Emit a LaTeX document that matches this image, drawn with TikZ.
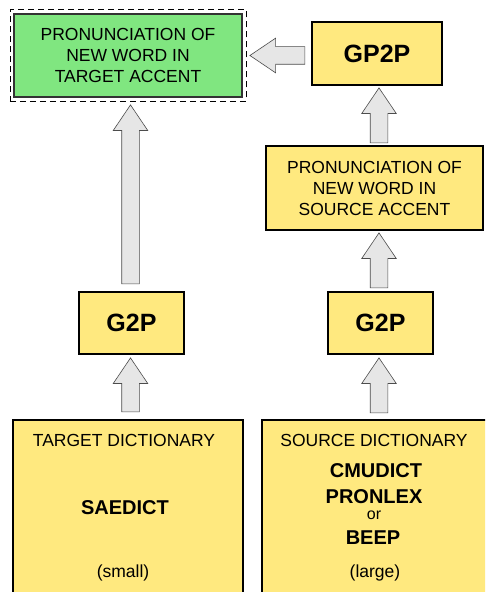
\documentclass[tikz,border=0pt]{standalone}
\usepackage{fontspec}
\setmainfont{Liberation Sans}
\usetikzlibrary{shapes.arrows, fit, calc}
\definecolor{boxyellow}{RGB}{255,233,127}
\definecolor{boxgreen}{RGB}{128,230,128}
\definecolor{arrowgray}{RGB}{230,230,230}
\tikzset{
  box/.style={draw=black, line width=1.6pt, fill=boxyellow, align=center, inner sep=0pt},
  lbl/.style={font=\fontsize{17.5}{21}\selectfont, align=center},
  bigl/.style={font=\fontsize{25}{30}\selectfont\bfseries},
  namel/.style={font=\fontsize{20}{24}\selectfont\bfseries, inner sep=0pt},
  fatarrow/.style={single arrow, draw=black!70, line width=0.6pt, fill=arrowgray,
    inner xsep=0pt, inner ysep=8.5pt, single arrow head extend=8.5pt,
    single arrow tip angle=68, minimum height=#1, anchor=tail},
}

\begin{document}
\begin{tikzpicture}[x=1pt, y=1pt]
  \clip (0,0) rectangle (485,592);
  % boxes
  \node[box, lbl, fill=boxgreen, draw=black!80, line width=1.2pt,
    minimum width=228pt, minimum height=83pt] (tgt) at (128,536.5)
    {PRONUNCIATION OF\\NEW WORD IN\\TARGET ACCENT};
  \node[draw, dash pattern=on 6pt off 4pt, line width=0.8pt, fit=(tgt), inner sep=3.5pt] (tgtfrm) {};
  \node[box, bigl, minimum width=130pt, minimum height=63pt] (gp2p) at (377,538.5) {GP2P};
  \node[box, lbl, minimum width=217pt, minimum height=84pt] (src) at (374.5,404)
    {PRONUNCIATION OF\\NEW WORD IN\\SOURCE ACCENT};
  \node[box, bigl, minimum width=105pt, minimum height=62pt] (g2pL) at (131.5,269) {G2P};
  \node[box, bigl, minimum width=105pt, minimum height=62pt] (g2pR) at (380.5,269) {G2P};
  \node[box, minimum width=230pt, minimum height=182pt] (dictL) at (128,81) {};
  \node[box, minimum width=238pt, minimum height=182pt] (dictR) at (381,81) {};
  % dictionary texts
  \node[lbl] (tdict) at (124,152) {TARGET DICTIONARY};
  \node[namel] (sae) at (125,84) {SAEDICT};
  \node[lbl] (small) at (123,19) {(small)};
  \node[lbl] (sdict) at (374,152) {SOURCE DICTIONARY};
  \node[namel] (cmu) at (376,121) {CMUDICT};
  \node[namel] (pron) at (374,95) {PRONLEX};
  \node[font=\fontsize{16}{19}\selectfont, inner sep=0pt] (or) at (374,76.5) {or};
  \node[namel] (beep) at (373,54) {BEEP};
  \node[lbl] (large) at (375,19) {(large)};
  % arrows
  \node[fatarrow=54pt, rotate=90] (a1) at ([yshift=7pt,xshift=-1pt]dictL.north -| g2pL.south) {};
  \node[fatarrow=179pt, rotate=90] (a2) at ([yshift=7pt,xshift=-1pt]g2pL.north) {};
  \node[fatarrow=55pt, rotate=90] (a3) at ([yshift=6pt,xshift=-1.5pt]dictR.north -| g2pR.south) {};
  \node[fatarrow=55pt, rotate=90] (a4) at ([yshift=3pt,xshift=-1.5pt]g2pR.north) {};
  \node[fatarrow=55pt, rotate=90] (a5) at ([yshift=2pt,xshift=4.5pt]src.north) {};
  \node[fatarrow=55pt, rotate=180] (a6) at ([xshift=-6pt,yshift=-2pt]gp2p.west) {};
\end{tikzpicture}
\end{document}
